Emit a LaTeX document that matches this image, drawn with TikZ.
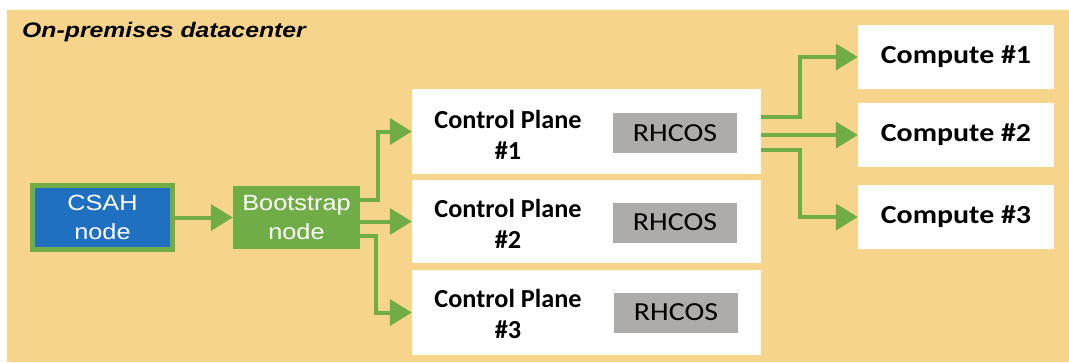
\documentclass[tikz,border=0pt]{standalone}
\usepackage{fontspec}
\setmainfont{Carlito}
\newfontfamily\arialf[FakeStretch=1.15]{Liberation Sans}
\newfontfamily\titlef[FakeStretch=1.18]{Liberation Sans}
\newfontfamily\calf[FakeStretch=1.15]{Carlito}
\newfontfamily\cpf[FakeStretch=1.01]{Carlito}
\usetikzlibrary{arrows.meta}
\definecolor{tan}{HTML}{F7D48B}
\definecolor{grn}{HTML}{70AD47}
\definecolor{blu}{HTML}{1F70C1}
\definecolor{gry}{HTML}{AEABAB}
\tikzset{
  arr/.style={draw=grn, line width=4pt, -{Triangle[length=22pt,width=26pt]}},
  whitebox/.style={fill=white, draw=none, inner sep=0pt},
  oslabel/.style={fill=gry, draw=none, minimum width=124pt, minimum height=40pt, inner sep=0pt, font=\calf\fontsize{26}{31}\selectfont},
  cptext/.style={align=center, inner sep=0pt, font=\cpf\bfseries\fontsize{26}{31}\selectfont},
  compbox/.style={fill=white, draw=none, minimum width=196pt, minimum height=64pt, inner sep=0pt, font=\calf\bfseries\fontsize{26}{31}\selectfont},
  smallnode/.style={align=center, inner sep=0pt, text=white, font=\arialf\fontsize{22}{29}\selectfont}
}
\begin{document}
\begin{tikzpicture}[x=1pt,y=-1pt]
\useasboundingbox (0,0) rectangle (1069,362);
\fill[white] (0,0) rectangle (1069,362);
\fill[tan] (7,10) rectangle (1069,362);
\node[anchor=base west, inner sep=0pt, font=\titlef\bfseries\itshape\fontsize{21}{25}\selectfont] (title) at (22,37) {On-premises datacenter};

% CSAH
\node[fill=blu, draw=grn, line width=5pt, minimum width=140pt, minimum height=64pt, inner sep=0pt] (csah) at (102.5,217.5) {};
\node[smallnode] (csaht) at (102.5,217.5) {CSAH\\node};
% Bootstrap
\node[fill=grn, draw=none, minimum width=127pt, minimum height=63pt, inner sep=0pt] (boot) at (296.5,217.5) {};
\node[smallnode] (boott) at (296.5,217.5) {Bootstrap\\node};

% Control planes
\node[whitebox, minimum width=349pt, minimum height=85pt] (cp1) at (586.5,131.5) {};
\node[whitebox, minimum width=349pt, minimum height=83pt] (cp2) at (586.5,221.5) {};
\node[whitebox, minimum width=349pt, minimum height=85pt] (cp3) at (586.5,312.5) {};
\node[cptext] (cp1t) at (508,135) {Control Plane\\\#1};
\node[cptext] (cp2t) at (508,224) {Control Plane\\\#2};
\node[cptext] (cp3t) at (508,314) {Control Plane\\\#3};
\node[oslabel] (os1) at (675,133) {RHCOS};
\node[oslabel] (os2) at (675,222.5) {RHCOS};
\node[oslabel] (os3) at (676,312.5) {RHCOS};

% Computes
\node[compbox] (c1) at (956,57) {Compute \#1};
\node[compbox] (c2) at (956,135) {Compute \#2};
\node[compbox] (c3) at (956,217) {Compute \#3};

% connectors
\coordinate (b1) at (378,200);
\coordinate (b3) at (376,236);
\coordinate (r1) at (800,117);
\coordinate (r3) at (800,150);
\draw[arr] (csah.east) -- (boot.west);
\draw[arr] (boot.east |- b1) -- (b1) |- (cp1.west);
\draw[arr] (boot.east |- cp2.west) -- (cp2.west);
\draw[arr] (boot.east |- b3) -- (b3) |- (cp3.west);
\draw[arr] (cp1.east |- r1) -- (r1) |- (c1.west);
\draw[arr] (cp1.east |- c2.west) -- (c2.west);
\draw[arr] (cp1.east |- r3) -- (r3) |- (c3.west);
\end{tikzpicture}
\end{document}
